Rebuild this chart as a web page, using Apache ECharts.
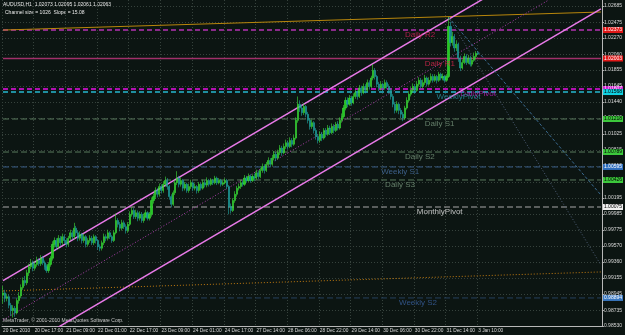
<!DOCTYPE html>
<html>
<head>
<meta charset="utf-8">
<title>AUDUSD,H1</title>
<script src="https://cdn.jsdelivr.net/npm/echarts@6/dist/echarts.min.js"></script>
<style>
  html, body { margin: 0; padding: 0; background: #0c1512; }
  #chart { width: 625px; height: 335px; }
</style>
</head>
<body>
<div id="chart"></div>
<script>
// AUDUSD H1 bars, 20 Dec 2010 .. 3 Jan 2011
const opens = [
  0.9893,0.9896,0.9889,0.9891,0.9880,0.9873,0.9876,0.9870,0.9886,0.9892,
  0.9903,0.9912,0.9909,0.9922,0.9930,0.9935,0.9928,0.9933,0.9938,0.9934,
  0.9941,0.9935,0.9930,0.9925,0.9933,0.9941,0.9959,0.9964,0.9956,0.9967,
  0.9961,0.9969,0.9964,0.9959,0.9967,0.9974,0.9969,0.9980,0.9974,0.9967,
  0.9972,0.9964,0.9969,0.9959,0.9964,0.9967,0.9961,0.9969,0.9964,0.9956,
  0.9954,0.9961,0.9969,0.9967,0.9974,0.9969,0.9964,0.9974,0.9990,0.9985,
  0.9980,0.9987,0.9982,0.9977,0.9985,0.9998,1.0003,0.9995,1.0000,0.9993,
  0.9998,0.9990,0.9995,1.0000,0.9993,0.9998,1.0016,1.0021,1.0029,1.0024,
  1.0034,1.0029,1.0037,1.0042,1.0034,1.0021,1.0011,1.0026,1.0039,1.0045,
  1.0037,1.0042,1.0032,1.0037,1.0029,1.0034,1.0039,1.0032,1.0034,1.0029,
  1.0037,1.0032,1.0039,1.0036,1.0042,1.0037,1.0042,1.0039,1.0045,1.0039,
  1.0042,1.0037,1.0039,1.0042,1.0034,1.0008,1.0003,1.0016,1.0024,1.0032,
  1.0034,1.0039,1.0037,1.0045,1.0042,1.0047,1.0042,1.0047,1.0045,1.0052,
  1.0047,1.0055,1.0060,1.0055,1.0063,1.0068,1.0063,1.0071,1.0076,1.0071,
  1.0078,1.0084,1.0078,1.0086,1.0091,1.0086,1.0094,1.0089,1.0097,1.0120,
  1.0141,1.0136,1.0130,1.0138,1.0128,1.0120,1.0112,1.0117,1.0107,1.0099,
  1.0094,1.0102,1.0097,1.0107,1.0102,1.0110,1.0104,1.0112,1.0107,1.0115,
  1.0110,1.0120,1.0125,1.0136,1.0146,1.0141,1.0149,1.0143,1.0151,1.0156,
  1.0151,1.0162,1.0156,1.0164,1.0159,1.0169,1.0164,1.0175,1.0185,1.0177,
  1.0167,1.0162,1.0167,1.0162,1.0169,1.0164,1.0159,1.0151,1.0141,1.0133,
  1.0141,1.0133,1.0128,1.0123,1.0136,1.0146,1.0154,1.0159,1.0164,1.0159,
  1.0167,1.0172,1.0164,1.0169,1.0175,1.0167,1.0172,1.0177,1.0172,1.0177,
  1.0172,1.0180,1.0175,1.0177,1.0172,1.0177,1.0242,1.0221,1.0229,1.0214,
  1.0219,1.0201,1.0188,1.0195,1.0203,1.0195,1.0201,1.0193,1.0198,1.0203,
  1.0207
];
const closes = [
  0.9896,0.9889,0.9891,0.9880,0.9873,0.9876,0.9870,0.9886,0.9892,0.9903,
  0.9912,0.9909,0.9922,0.9930,0.9935,0.9928,0.9933,0.9938,0.9934,0.9941,
  0.9935,0.9930,0.9925,0.9933,0.9941,0.9959,0.9964,0.9956,0.9967,0.9961,
  0.9969,0.9964,0.9959,0.9967,0.9974,0.9969,0.9980,0.9974,0.9967,0.9972,
  0.9964,0.9969,0.9959,0.9964,0.9967,0.9961,0.9969,0.9964,0.9956,0.9954,
  0.9961,0.9969,0.9967,0.9974,0.9969,0.9964,0.9974,0.9990,0.9985,0.9980,
  0.9987,0.9982,0.9977,0.9985,0.9998,1.0003,0.9995,1.0000,0.9993,0.9998,
  0.9990,0.9995,1.0000,0.9993,0.9998,1.0016,1.0021,1.0029,1.0024,1.0034,
  1.0029,1.0037,1.0042,1.0034,1.0021,1.0011,1.0026,1.0039,1.0045,1.0037,
  1.0042,1.0032,1.0037,1.0029,1.0034,1.0039,1.0032,1.0034,1.0029,1.0037,
  1.0032,1.0039,1.0036,1.0042,1.0037,1.0042,1.0039,1.0045,1.0039,1.0042,
  1.0037,1.0039,1.0042,1.0034,1.0008,1.0003,1.0016,1.0024,1.0032,1.0034,
  1.0039,1.0037,1.0045,1.0042,1.0047,1.0042,1.0047,1.0045,1.0052,1.0047,
  1.0055,1.0060,1.0055,1.0063,1.0068,1.0063,1.0071,1.0076,1.0071,1.0078,
  1.0084,1.0078,1.0086,1.0091,1.0086,1.0094,1.0089,1.0097,1.0120,1.0141,
  1.0136,1.0130,1.0138,1.0128,1.0120,1.0112,1.0117,1.0107,1.0099,1.0094,
  1.0102,1.0097,1.0107,1.0102,1.0110,1.0104,1.0112,1.0107,1.0115,1.0110,
  1.0120,1.0125,1.0136,1.0146,1.0141,1.0149,1.0143,1.0151,1.0156,1.0151,
  1.0162,1.0156,1.0164,1.0159,1.0169,1.0164,1.0175,1.0185,1.0177,1.0167,
  1.0162,1.0167,1.0162,1.0169,1.0164,1.0159,1.0151,1.0141,1.0133,1.0141,
  1.0133,1.0128,1.0123,1.0136,1.0146,1.0154,1.0159,1.0164,1.0159,1.0167,
  1.0172,1.0164,1.0169,1.0175,1.0167,1.0172,1.0177,1.0172,1.0177,1.0172,
  1.0180,1.0175,1.0177,1.0172,1.0177,1.0242,1.0221,1.0229,1.0214,1.0219,
  1.0201,1.0188,1.0195,1.0203,1.0195,1.0201,1.0193,1.0198,1.0203,1.0207,
  1.0206
];
const highs = [
  0.9905,0.9900,0.9895,0.9894,0.9883,0.9880,0.9879,0.9889,0.9897,0.9907,
  0.9916,0.9918,0.9926,0.9934,0.9940,0.9938,0.9937,0.9943,0.9941,0.9945,
  0.9944,0.9938,0.9933,0.9936,0.9944,0.9963,0.9968,0.9967,0.9971,0.9970,
  0.9973,0.9972,0.9967,0.9970,0.9978,0.9977,0.9987,0.9983,0.9977,0.9976,
  0.9974,0.9973,0.9971,0.9967,0.9971,0.9970,0.9972,0.9971,0.9966,0.9959,
  0.9964,0.9973,0.9972,0.9978,0.9976,0.9971,0.9977,0.9999,0.9993,0.9988,
  0.9991,0.9990,0.9985,0.9988,1.0002,1.0007,1.0006,1.0004,1.0003,1.0002,
  1.0001,0.9999,1.0004,1.0002,1.0001,1.0020,1.0025,1.0033,1.0032,1.0038,
  1.0037,1.0041,1.0047,1.0045,1.0036,1.0024,1.0029,1.0043,1.0054,1.0048,
  1.0046,1.0044,1.0040,1.0039,1.0038,1.0043,1.0041,1.0038,1.0036,1.0040,
  1.0039,1.0043,1.0042,1.0046,1.0044,1.0045,1.0044,1.0048,1.0047,1.0045,
  1.0044,1.0042,1.0045,1.0044,1.0036,1.0012,1.0019,1.0028,1.0035,1.0038,
  1.0043,1.0042,1.0049,1.0048,1.0051,1.0050,1.0050,1.0051,1.0056,1.0055,
  1.0058,1.0064,1.0063,1.0066,1.0072,1.0071,1.0075,1.0080,1.0079,1.0082,
  1.0088,1.0087,1.0090,1.0095,1.0094,1.0098,1.0097,1.0101,1.0124,1.0151,
  1.0146,1.0140,1.0142,1.0140,1.0131,1.0123,1.0121,1.0119,1.0110,1.0102,
  1.0106,1.0105,1.0110,1.0110,1.0114,1.0113,1.0116,1.0115,1.0118,1.0119,
  1.0124,1.0129,1.0140,1.0150,1.0150,1.0153,1.0152,1.0155,1.0160,1.0159,
  1.0166,1.0165,1.0168,1.0167,1.0173,1.0172,1.0178,1.0193,1.0188,1.0179,
  1.0170,1.0171,1.0169,1.0173,1.0172,1.0167,1.0162,1.0154,1.0144,1.0145,
  1.0143,1.0136,1.0131,1.0139,1.0150,1.0158,1.0163,1.0168,1.0167,1.0171,
  1.0176,1.0175,1.0173,1.0179,1.0177,1.0176,1.0181,1.0180,1.0180,1.0179,
  1.0183,1.0182,1.0181,1.0179,1.0180,1.0254,1.0248,1.0235,1.0232,1.0224,
  1.0221,1.0204,1.0199,1.0207,1.0206,1.0205,1.0204,1.0202,1.0208,1.0210,
  1.0210
];
const lows = [
  0.9882,0.9884,0.9885,0.9876,0.9866,0.9864,0.9865,0.9868,0.9882,0.9889,
  0.9900,0.9905,0.9906,0.9918,0.9927,0.9924,0.9925,0.9930,0.9931,0.9931,
  0.9932,0.9926,0.9922,0.9922,0.9930,0.9938,0.9955,0.9952,0.9953,0.9957,
  0.9958,0.9960,0.9955,0.9956,0.9964,0.9965,0.9966,0.9970,0.9963,0.9964,
  0.9960,0.9961,0.9955,0.9956,0.9961,0.9958,0.9958,0.9960,0.9952,0.9950,
  0.9951,0.9958,0.9963,0.9964,0.9966,0.9961,0.9962,0.9972,0.9981,0.9976,
  0.9977,0.9979,0.9973,0.9974,0.9983,0.9995,0.9992,0.9992,0.9989,0.9990,
  0.9987,0.9987,0.9993,0.9990,0.9990,0.9995,1.0012,1.0018,1.0020,1.0021,
  1.0025,1.0026,1.0034,1.0030,1.0017,1.0007,1.0009,1.0023,1.0036,1.0033,
  1.0034,1.0028,1.0029,1.0026,1.0026,1.0031,1.0028,1.0029,1.0025,1.0026,
  1.0029,1.0030,1.0033,1.0033,1.0034,1.0035,1.0036,1.0037,1.0036,1.0037,
  1.0034,1.0035,1.0037,1.0031,0.9998,0.9999,1.0001,1.0013,1.0021,1.0029,
  1.0031,1.0034,1.0035,1.0039,1.0040,1.0039,1.0040,1.0041,1.0043,1.0044,
  1.0045,1.0052,1.0051,1.0053,1.0060,1.0059,1.0061,1.0068,1.0067,1.0069,
  1.0075,1.0074,1.0076,1.0083,1.0082,1.0084,1.0085,1.0087,1.0095,1.0117,
  1.0131,1.0126,1.0127,1.0124,1.0116,1.0108,1.0109,1.0103,1.0095,1.0090,
  1.0091,1.0093,1.0095,1.0098,1.0100,1.0101,1.0102,1.0103,1.0105,1.0107,
  1.0108,1.0117,1.0122,1.0133,1.0137,1.0139,1.0139,1.0141,1.0148,1.0147,
  1.0149,1.0152,1.0154,1.0155,1.0157,1.0160,1.0162,1.0172,1.0173,1.0163,
  1.0158,1.0159,1.0158,1.0160,1.0161,1.0155,1.0147,1.0137,1.0129,1.0130,
  1.0128,1.0123,1.0119,1.0121,1.0134,1.0143,1.0151,1.0156,1.0155,1.0157,
  1.0164,1.0161,1.0161,1.0166,1.0164,1.0165,1.0169,1.0169,1.0170,1.0168,
  1.0170,1.0172,1.0172,1.0169,1.0170,1.0175,1.0216,1.0217,1.0209,1.0210,
  1.0196,1.0184,1.0186,1.0193,1.0192,1.0193,1.0190,1.0190,1.0196,1.0199,
  1.0205
];

// time axis: 303 bar slots (chart shift leaves the right part empty)
const barSlots = 303;
const timeTicks = [
  [0, '20 Dec 2010'], [16, '20 Dec 17:00'], [32, '21 Dec 09:00'], [48, '22 Dec 01:00'],
  [64, '22 Dec 17:00'], [80, '23 Dec 09:00'], [96, '24 Dec 01:00'], [112, '24 Dec 17:00'],
  [128, '27 Dec 14:00'], [144, '28 Dec 06:00'], [160, '28 Dec 22:00'], [176, '29 Dec 14:00'],
  [192, '30 Dec 06:00'], [208, '30 Dec 22:00'], [224, '31 Dec 14:00'], [240, '3 Jan 10:00']
];

// price scale
const priceMin = 0.98530;
const priceMax = 1.02763;
const priceTicks = [
  0.98530, 0.98735, 0.98945, 0.99155, 0.99360, 0.99570, 0.99775, 0.99985, 1.00195, 1.00400,
  1.00610, 1.00815, 1.01025, 1.01230, 1.01440, 1.01645, 1.01855, 1.02060, 1.02270, 1.02475, 1.02685
];

// pivot levels
const pivotNames = ['Daily R2', 'Daily R1', 'DailyPivot', 'WeeklyPivot', 'Daily S1', 'Daily S2',
  'Weekly S1', 'Daily S3', 'MonthlyPivot', 'Weekly S2'];
const pivotPrices = [1.02373, 1.02003, 1.01607, 1.01568, 1.01218, 1.00789,
  1.00595, 1.00426, 1.00075, 0.98894];
const pivotTextBar = [203, 213, 231, 219, 213, 203, 191, 193, 209, 200];

// drawn objects: [bar, price] end points
const channelUpper = [[0, 0.99120], [302, 1.03674]];
const channelMiddle = [[0, 0.98607], [302, 1.03161]];
const channelLower = [[0, 0.98094], [302, 1.02648]];
const highTrend = [[0, 1.02373], [302, 1.02607]];
const lowTrend = [[0, 0.98985], [302, 0.99232]];
const fanSteep = [[225, 1.02540], [302, 0.99322]];
const fanFlat = [[225, 1.02540], [302, 1.00231]];

const headerLine = 'AUDUSD,H1  1.02073 1.02095 1.02061 1.02063';
const channelLine = 'Channel size = 1026  Slope = 15.08';
const copyright = 'MetaTrader, \u00a9 2001-2010 MetaQuotes Software Corp.';

// styles for the pivot lines (same order as pivotNames)
const pivotStyle = [
  { line: '#8a2a8a', width: 2, type: [5, 3], text: '#d8205a', box: '#e01818', boxText: '#ffffff' },
  { line: '#a0306a', width: 1.5, type: 'solid', text: '#e02850', box: '#e01818', boxText: '#ffffff' },
  { line: '#b010b0', width: 2, type: [5, 3], text: '#c020c0', box: '#d020d0', boxText: '#ffffff' },
  { line: '#1f8f9f', width: 2, type: [5, 3], text: '#2a9aaa', box: '#10d0e0', boxText: '#000000' },
  { line: '#5a7a5e', width: 1, type: [6, 3], text: '#7a9a80', box: '#3cc83c', boxText: '#000000' },
  { line: '#5a7a5e', width: 1, type: [6, 3], text: '#7a9a80', box: '#3cc83c', boxText: '#000000' },
  { line: '#3b5f8a', width: 1, type: [6, 3], text: '#4a72a8', box: '#3070c0', boxText: '#ffffff' },
  { line: '#5a7a5e', width: 1, type: [6, 3], text: '#7a9a80', box: '#3cc83c', boxText: '#000000' },
  { line: '#a8a8a8', width: 1, type: [6, 3], text: '#e8e8e8', box: '#f0f0f0', boxText: '#000000' },
  { line: '#26405e', width: 1, type: [6, 3], text: '#3a62a0', box: '#3a78c0', boxText: '#ffffff' }
];

const font = 'Liberation Sans';
const axisColor = '#b8b8b8';
const gridColor = '#36423c';

const categories = new Array(barSlots).fill('');
timeTicks.forEach(t => { categories[t[0]] = t[1]; });
const isTick = (i, v) => v !== '';

const candles = opens.map((o, i) => [o, closes[i], lows[i], highs[i]]);

function trend(data, color, width, type) {
  return {
    type: 'line', data: data, symbol: 'none', silent: true,
    lineStyle: { color: color, width: width, type: type }, z: 4
  };
}

// one horizontal line per pivot, price box at the right edge
const pivotSeries = pivotPrices.map((p, i) => ({
  type: 'line',
  data: [[0, p], [barSlots - 1, p]],
  symbol: 'none',
  silent: true,
  z: 3,
  lineStyle: { color: pivotStyle[i].line, width: pivotStyle[i].width, type: pivotStyle[i].type },
  endLabel: {
    show: true, distance: 2,
    formatter: () => p.toFixed(5),
    fontSize: 5, fontFamily: font,
    color: pivotStyle[i].boxText, backgroundColor: pivotStyle[i].box,
    padding: [1, 1, 0, 1]
  }
}));

let myChart = echarts.init(document.getElementById('chart'));
let option = {
  backgroundColor: '#0c1512',
  animation: false,
  grid: { left: 0, right: 19, top: 0, bottom: 9 },
  xAxis: {
    type: 'category',
    data: categories,
    boundaryGap: true,
    axisLine: { lineStyle: { color: axisColor, width: 1 } },
    axisTick: { interval: isTick, length: 2, alignWithLabel: true, lineStyle: { color: axisColor } },
    axisLabel: { interval: isTick, align: 'left', margin: 2, fontSize: 4.8, color: '#d8d8d8', fontFamily: font },
    splitLine: { show: true, interval: isTick, lineStyle: { color: gridColor, type: [1, 2] } }
  },
  yAxis: {
    type: 'value',
    position: 'right',
    min: priceMin,
    max: priceMax,
    axisLine: { show: true, lineStyle: { color: axisColor, width: 1 } },
    axisTick: { show: true, length: 2, customValues: priceTicks, lineStyle: { color: axisColor } },
    axisLabel: {
      customValues: priceTicks, margin: 2, fontSize: 5, color: '#d8d8d8', fontFamily: font,
      formatter: v => v.toFixed(5)
    },
    splitLine: { show: true, lineStyle: { color: gridColor, type: [1, 2] } }
  },
  series: [
    ...pivotSeries,
    {
      type: 'candlestick',
      data: candles,
      barWidth: 1.6,
      silent: true,
      z: 4,
      itemStyle: {
        color: '#22c822', color0: '#158c90',
        borderColor: '#3ee03a', borderColor0: '#22a8a4', borderWidth: 0.6
      }
    },
    trend(highTrend, '#b8860b', 1, 'solid'),
    trend(lowTrend, '#c07a10', 1, [1, 2]),
    trend(channelMiddle, '#b040b0', 1, [1, 2]),
    trend(channelUpper, '#e87ae8', 1.5, 'solid'),
    trend(channelLower, '#e87ae8', 1.5, 'solid'),
    trend(fanSteep, '#50607a', 1, [1, 2]),
    trend(fanFlat, '#3a6a90', 1, [3, 2]),
    {
      type: 'scatter',
      symbolSize: 0,
      silent: true,
      z: 5,
      data: pivotNames.map((n, i) => ({
        name: n,
        value: [pivotTextBar[i], pivotPrices[i]],
        label: { color: pivotStyle[i].text }
      })),
      label: {
        show: true, position: 'right', distance: 0, offset: [0, 5],
        formatter: '{b}', fontSize: 8, fontFamily: font
      }
    }
  ],
  graphic: [
    { type: 'text', left: 3, top: 2, style: { text: headerLine, fill: '#e8e8e8', font: '5px "Liberation Sans"' } },
    { type: 'text', left: 5, top: 10, style: { text: channelLine, fill: '#e8e8e8', font: '5px "Liberation Sans"' } },
    { type: 'text', left: 3, top: 318, style: { text: copyright, fill: '#c8c8c8', font: '5px "Liberation Sans"' } }
  ]
};
myChart.setOption(option);
</script>
</body>
</html>
